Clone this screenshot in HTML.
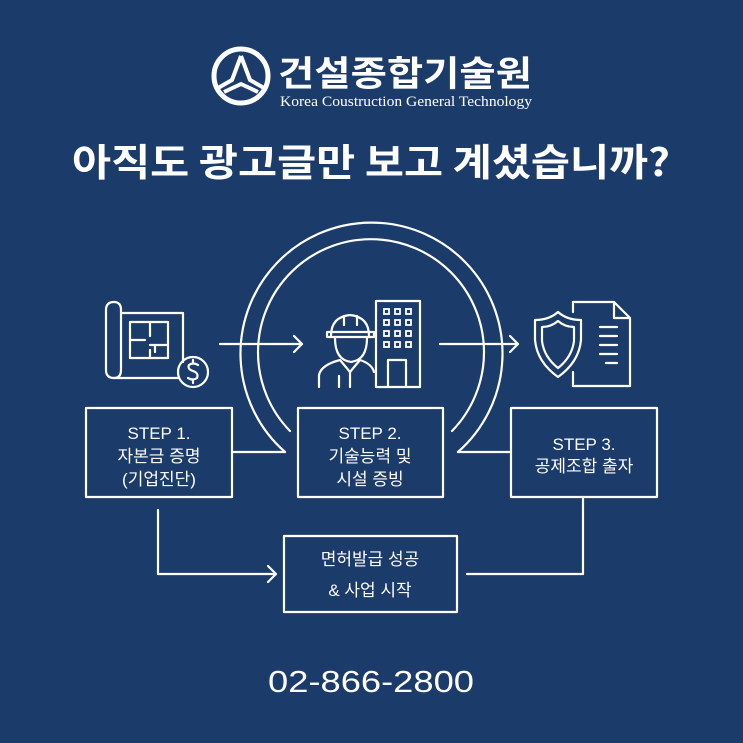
<!DOCTYPE html>
<html><head><meta charset="utf-8"><style>
html,body{margin:0;padding:0;background:#1b3b6b;}
svg{display:block}
text{font-family:"Liberation Sans","Noto Sans CJK KR",sans-serif;fill:#fff}
</style></head><body>
<svg width="743" height="743" viewBox="0 0 743 743" xmlns="http://www.w3.org/2000/svg">
<rect width="743" height="743" fill="#1b3b6b"/>
<g stroke="#fff" fill="none">
<circle cx="241" cy="76" r="27" stroke-width="5"/>
<path d="M241 56 L232 80 L218 88 M241 56 L250 80 L264 88 M224 92 L241 84 L258 92" stroke-width="4" stroke-linejoin="round"/>
</g>
<text x="278" y="86" font-size="35" font-weight="bold" textLength="254" lengthAdjust="spacingAndGlyphs" style="font-family:'Noto Sans CJK KR',sans-serif">건설종합기술원</text>
<text x="280" y="106" font-size="15" textLength="252" lengthAdjust="spacingAndGlyphs" style="font-family:'Liberation Serif',serif">Korea Coustruction General Technology</text>
<text x="72" y="176" font-size="38" font-weight="bold" textLength="598" lengthAdjust="spacingAndGlyphs" style="font-family:'Noto Sans CJK KR',sans-serif">아직도 광고글만 보고 계셨습니까?</text>
<g stroke="#fff" fill="none" stroke-width="2.2" stroke-linecap="round" stroke-linejoin="round">
<path d="M285 452 A131 131 0 1 1 458 452"/>
<path d="M290 431 A113 113 0 1 1 452 431"/>
<line x1="232" y1="452" x2="285" y2="452"/>
<line x1="458" y1="452" x2="510" y2="452"/>
<path d="M106 310 Q106 302 114 302 Q121 302 121 310 L121 370"/>
<path d="M106 310 L106 370 Q106 378 114 378 L178 378"/>
<path d="M114 378 Q121 378 121 370"/>
<path d="M121 313 L183 313 L183 362"/>
<path d="M130 322 L168 322 L168 358 L130 358 Z M150 322 L150 336 M130 340 L145 340 M150 345 L168 345 M155 345 L155 352 M150 358 L150 350"/>
<circle cx="193" cy="372" r="15"/>
<path d="M198 365 Q193 362 189 365 Q187 369 193 371 Q199 373 197 378 Q193 381 188 378 M193 362 L193 360 M193 381 L193 383"/>
<path d="M220 344 L302 344 M294 336 L302 344 L294 352"/>
<path d="M440 344 L518 344 M510 336 L518 344 L510 352"/>
<path d="M331 336 Q331 317 350 315 Q369 317 369 336 M327 337 L374 337 L374 332 L327 332 Z M344 316 L344 325 M357 316 L357 325"/>
<path d="M335 338 Q335 360 351 362 Q367 360 367 338"/>
<path d="M319 387 L319 375 Q321 365 340 360 L350 372 L360 360 Q372 364 374 372 M350 372 L350 387 M339 376 L339 387"/>
<path d="M376 301 L420 301 L420 387 L376 387 Z M388 387 L388 360 L406 360 L406 387"/>
</g>
<g fill="none" stroke="#fff" stroke-width="1.8">
<rect x="384" y="309" width="5" height="5"/><rect x="395" y="309" width="5" height="5"/><rect x="406" y="309" width="5" height="5"/>
<rect x="384" y="320" width="5" height="5"/><rect x="395" y="320" width="5" height="5"/><rect x="406" y="320" width="5" height="5"/>
<rect x="384" y="331" width="5" height="5"/><rect x="395" y="331" width="5" height="5"/><rect x="406" y="331" width="5" height="5"/>
<rect x="384" y="342" width="5" height="5"/><rect x="395" y="342" width="5" height="5"/><rect x="406" y="342" width="5" height="5"/>
</g>
<g stroke="#fff" fill="none" stroke-width="2.2" stroke-linejoin="round" stroke-linecap="round">
<path d="M573 302 L614 302 L630 318 L630 386 L573 386 L573 372 M614 302 L614 318 L630 318 M573 302 L573 312"/>
<path d="M600 327 L617 327 M600 336 L617 336 M600 345 L617 345 M600 354 L617 354 M606 363 L617 363"/>
<path d="M558 312 Q549 320 535 320 L535 340 Q537 362 558 377 Q579 362 581 340 L581 320 Q567 320 558 312 Z"/>
<path d="M558 321 Q551 327 542 327 L542 341 Q544 357 558 368 Q572 357 574 341 L574 327 Q565 327 558 321 Z"/>
<rect x="86" y="408" width="146" height="89"/>
<rect x="298" y="408" width="145" height="89"/>
<rect x="511" y="408" width="146" height="89"/>
<rect x="284" y="536" width="173" height="76"/>
<path d="M158 510 L158 574 L276 574 M268 566 L276 574 L268 582"/>
<path d="M583 497 L583 574 L467 574"/>
</g>
<g font-size="17" text-anchor="middle" style="font-family:'Noto Sans CJK KR',sans-serif">
<text x="159" y="439">STEP 1.</text>
<text x="159" y="462">자본금 증명</text>
<text x="159" y="485">(기업진단)</text>
<text x="370" y="439">STEP 2.</text>
<text x="370" y="462">기술능력 및</text>
<text x="370" y="485">시설 증빙</text>
<text x="584" y="450">STEP 3.</text>
<text x="584" y="472">공제조합 출자</text>
<text x="370" y="565">면허발급 성공</text>
<text x="370" y="596">&amp; 사업 시작</text>
</g>
<text x="268" y="692" font-size="31" textLength="206" lengthAdjust="spacingAndGlyphs">02-866-2800</text>
</svg>
</body></html>
